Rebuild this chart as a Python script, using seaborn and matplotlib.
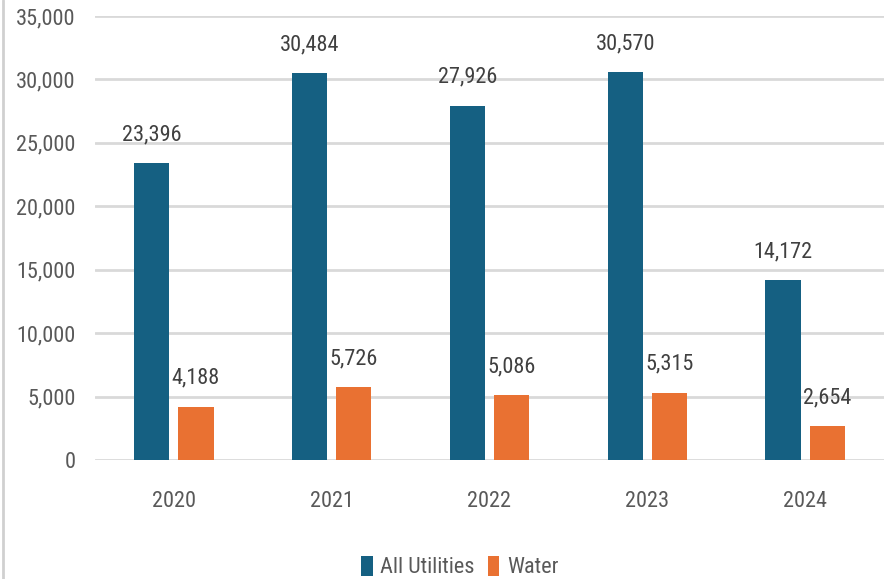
import matplotlib
matplotlib.use("Agg")
import matplotlib.pyplot as plt
import seaborn as sns
import pandas as pd
from matplotlib.lines import Line2D
from matplotlib.patches import Patch

years = ["2020", "2021", "2022", "2023", "2024"]
series_names = ["All Utilities", "Water"]
all_utilities = [23396, 30484, 27926, 30570, 14172]
water = [4188, 5726, 5086, 5315, 2654]
y_ticks = [0, 5000, 10000, 15000, 20000, 25000, 30000, 35000]

df = pd.DataFrame({
    "Year": years * 2,
    "Series": [series_names[0]] * len(years) + [series_names[1]] * len(years),
    "Value": all_utilities + water,
})

sns.set_theme(style="white")
FONT = ["Roboto Condensed", "Liberation Sans Narrow", "Roboto", "DejaVu Sans"]
plt.rcParams["font.family"] = FONT

colors = {"All Utilities": "#156082", "Water": "#E97132"}

fig = plt.figure(figsize=(8.94, 5.79), dpi=100)
ax = fig.add_axes([95 / 894, 1 - 460 / 579, (884 - 95) / 894, (460 - 16) / 579])

sns.barplot(data=df, x="Year", y="Value", hue="Series", palette=colors,
            width=0.56, gap=0.2, ax=ax, legend=False, saturation=1, linewidth=0)

ax.set_ylim(0, 35000)
ax.set_xlim(-0.5, len(years) - 0.5)
ax.set_yticks(y_ticks)
ax.set_yticklabels([f"{v:,}" for v in y_ticks])
ax.yaxis.grid(True, color="#D9D9D9", linewidth=2)
ax.set_axisbelow(True)
for s in ax.spines.values():
    s.set_visible(False)
ax.set_xlabel("")
ax.set_ylabel("")
ax.tick_params(axis="y", length=0, pad=14, labelsize=16, labelcolor="#595959")
ax.tick_params(axis="x", length=0, pad=22, labelsize=16, labelcolor="#595959")

for cont in ax.containers:
    ax.bar_label(cont, labels=[f"{v:,.0f}" for v in cont.datavalues],
                 padding=13, fontsize=16, color="#404040")

handles = [Patch(facecolor=colors[n], edgecolor="none") for n in series_names]
fig.legend(handles, series_names, loc="center", bbox_to_anchor=(460 / 894, 1 - 567 / 579),
           ncol=2, frameon=False, fontsize=16, handlelength=0.5, handleheight=1.0,
           handletextpad=0.35, columnspacing=0.6, labelcolor="#595959")

fig.add_artist(Line2D([2.5 / 894, 2.5 / 894], [0, 1], color="#D0D0D0", linewidth=2,
                      transform=fig.transFigure))

fig.savefig("out.png", dpi=100)
